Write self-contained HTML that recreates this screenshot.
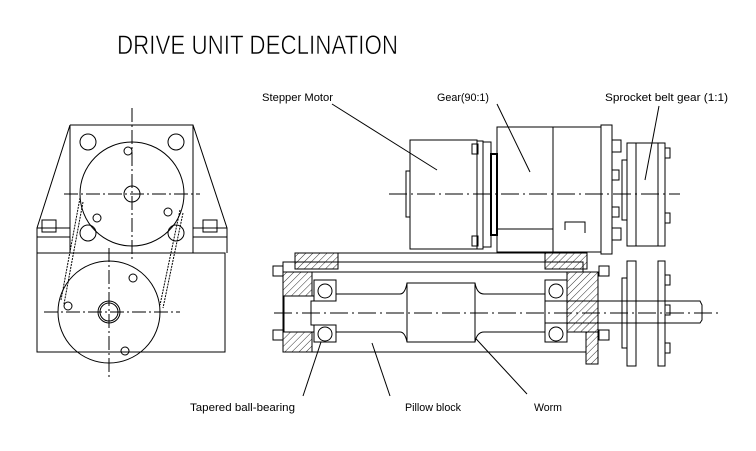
<!DOCTYPE html>
<html><head><style>
html,body{margin:0;padding:0;background:#fff}
svg{display:block}
text{font-family:"Liberation Sans",sans-serif;fill:#000}
</style></head><body>
<svg width="756" height="451" viewBox="0 0 756 451" xmlns="http://www.w3.org/2000/svg">
<defs>
<pattern id="h" width="5" height="5" patternUnits="userSpaceOnUse" patternTransform="rotate(45)">
<line x1="0" y1="0" x2="0" y2="5" stroke="#000" stroke-width="0.8"/>
</pattern>
</defs>
<rect width="756" height="451" fill="#fff"/>
<text x="117" y="54" font-size="27" textLength="281" lengthAdjust="spacingAndGlyphs" style="font-weight:normal" stroke="#fff" stroke-width="0.6">DRIVE UNIT DECLINATION</text>

<g font-size="11">
<text x="262" y="101" textLength="71" lengthAdjust="spacingAndGlyphs">Stepper Motor</text>
<text x="437" y="101" textLength="52" lengthAdjust="spacingAndGlyphs">Gear(90:1)</text>
<text x="605" y="101" textLength="123" lengthAdjust="spacingAndGlyphs">Sprocket belt gear (1:1)</text>
<text x="190" y="411" textLength="105" lengthAdjust="spacingAndGlyphs">Tapered ball-bearing</text>
<text x="405" y="411" textLength="56" lengthAdjust="spacingAndGlyphs">Pillow block</text>
<text x="534" y="411" textLength="28" lengthAdjust="spacingAndGlyphs">Worm</text>
</g>

<g stroke="#000" stroke-width="1" fill="none">
<!-- leaders -->
<line x1="332" y1="104" x2="437" y2="170"/>
<line x1="497" y1="104" x2="530" y2="172"/>
<line x1="659" y1="106" x2="645" y2="180"/>
<line x1="321" y1="342" x2="303" y2="396"/>
<line x1="372" y1="343" x2="390" y2="396"/>
<line x1="467" y1="329" x2="527" y2="394"/>

<!-- LEFT VIEW -->
<path d="M70,125 L193,125 L227,228 L227,253 M70,125 L37,228 L37,253"/>
<line x1="70" y1="125" x2="70" y2="253"/>
<line x1="193" y1="125" x2="193" y2="253"/>
<line x1="37" y1="228" x2="70" y2="228"/>
<line x1="193" y1="228" x2="227" y2="228"/>
<line x1="37" y1="237" x2="70" y2="237"/>
<line x1="193" y1="237" x2="227" y2="237"/>
<rect x="42" y="220" width="14" height="12"/>
<rect x="203" y="220" width="14" height="12"/>
<rect x="37" y="253" width="188" height="99"/>
<circle cx="132" cy="194" r="52"/>
<circle cx="132" cy="194" r="8"/>
<circle cx="109" cy="312" r="51"/>
<circle cx="109" cy="312" r="11"/>
<circle cx="109" cy="312" r="9"/>
<g>
<circle cx="88" cy="142" r="8"/><circle cx="176" cy="142" r="8"/>
<circle cx="88" cy="233" r="8"/><circle cx="176" cy="233" r="8"/>
<circle cx="128" cy="151" r="4"/><circle cx="97" cy="218" r="4"/><circle cx="168" cy="212" r="4"/>
<circle cx="133" cy="278" r="4"/><circle cx="68" cy="306" r="4"/><circle cx="125" cy="351" r="4"/>
</g>
<!-- belt -->
<path d="M80,198 L61,300 M83,202 L64,304 M180,210 L160,305 M183,213 L163,308" stroke-dasharray="2,1"/>
<!-- centerlines -->
<g stroke-dasharray="14,3,2,3">
<line x1="132" y1="108" x2="132" y2="262"/>
<line x1="64" y1="194" x2="200" y2="194"/>
<line x1="109" y1="248" x2="109" y2="380"/>
<line x1="44" y1="312" x2="180" y2="312"/>
</g>

<!-- RIGHT VIEW : motor -->
<rect x="410" y="140" width="67" height="109"/>
<rect x="406" y="171" width="4" height="46"/>
<rect x="477" y="141" width="6" height="108"/>
<rect x="483" y="142" width="8" height="105"/>
<rect x="491" y="154" width="6" height="81" stroke-width="2"/>
<rect x="472" y="144" width="6" height="10"/><rect x="472" y="236" width="6" height="10"/>
<!-- gearbox -->
<rect x="497" y="127" width="104" height="125"/>
<line x1="553" y1="127" x2="553" y2="252"/>
<line x1="497" y1="229" x2="553" y2="229"/>
<path d="M565,230 L565,222 L585,222 L585,233"/>
<rect x="601" y="125" width="11" height="129"/>
<rect x="612" y="140" width="9" height="12"/><rect x="612" y="228" width="9" height="12"/>
<rect x="612" y="170" width="7" height="10"/><rect x="612" y="207" width="7" height="10"/>
<rect x="622" y="160" width="5" height="60"/>
<!-- top pulley -->
<rect x="627" y="143" width="9" height="103"/>
<rect x="636" y="143" width="22" height="103"/>
<rect x="658" y="143" width="7" height="103"/>
<rect x="665" y="148" width="5" height="10"/><rect x="665" y="213" width="5" height="10"/>
<!-- bottom pulley -->
<rect x="627" y="261" width="9" height="105"/>
<line x1="636" y1="261" x2="636" y2="366"/>
<rect x="658" y="261" width="7" height="105"/>
<rect x="622" y="278" width="5" height="70"/>
<rect x="665" y="275" width="5" height="10"/><rect x="665" y="305" width="5" height="10"/><rect x="665" y="343" width="5" height="10"/>
<!-- pillow block -->
<path d="M295,253 L587,253 L587,262 M295,253 L295,262 M283,262 L283,352 L586,352"/>
<rect x="295" y="253" width="43" height="16" fill="url(#h)"/>
<rect x="545" y="253" width="42" height="16" fill="url(#h)"/>
<rect x="283" y="262" width="300" height="10"/>
<rect x="283" y="272" width="29" height="80" fill="url(#h)"/>
<rect x="567" y="272" width="31" height="60" fill="url(#h)"/>
<rect x="586" y="332" width="12" height="32" fill="url(#h)"/>
<rect x="284" y="296" width="30" height="36" fill="#fff"/>
<rect x="314" y="280" width="22" height="62" fill="#fff"/>
<circle cx="325" cy="291" r="7"/><circle cx="325" cy="334" r="7"/>
<rect x="545" y="280" width="22" height="62" fill="#fff"/>
<circle cx="556" cy="291" r="7"/><circle cx="556" cy="334" r="7"/>
<rect x="273" y="266" width="10" height="10"/><rect x="273" y="330" width="10" height="10"/>
<rect x="599" y="266" width="10" height="10"/><rect x="599" y="330" width="10" height="10"/>
<!-- shaft / worm -->
<path d="M311,301 L336,301 L336,294 L400,294 Q405,294 407,283 L475,283 Q477,294 484,294 L545,294 L545,332 L484,332 Q477,332 475,342 L407,342 Q405,332 400,332 L336,332 L336,325 L311,325 Z" fill="#fff"/>
<line x1="407" y1="283" x2="407" y2="342"/><line x1="475" y1="283" x2="475" y2="342"/>
<path d="M545,301 L700,301 L702,305 L702,320 L700,323 L545,323"/>
<!-- centerlines -->
<g stroke-dasharray="18,4,2,4">
<line x1="389" y1="194" x2="680" y2="194"/>
<line x1="274" y1="313" x2="718" y2="313"/>
</g>
</g>
</svg>
</body></html>
